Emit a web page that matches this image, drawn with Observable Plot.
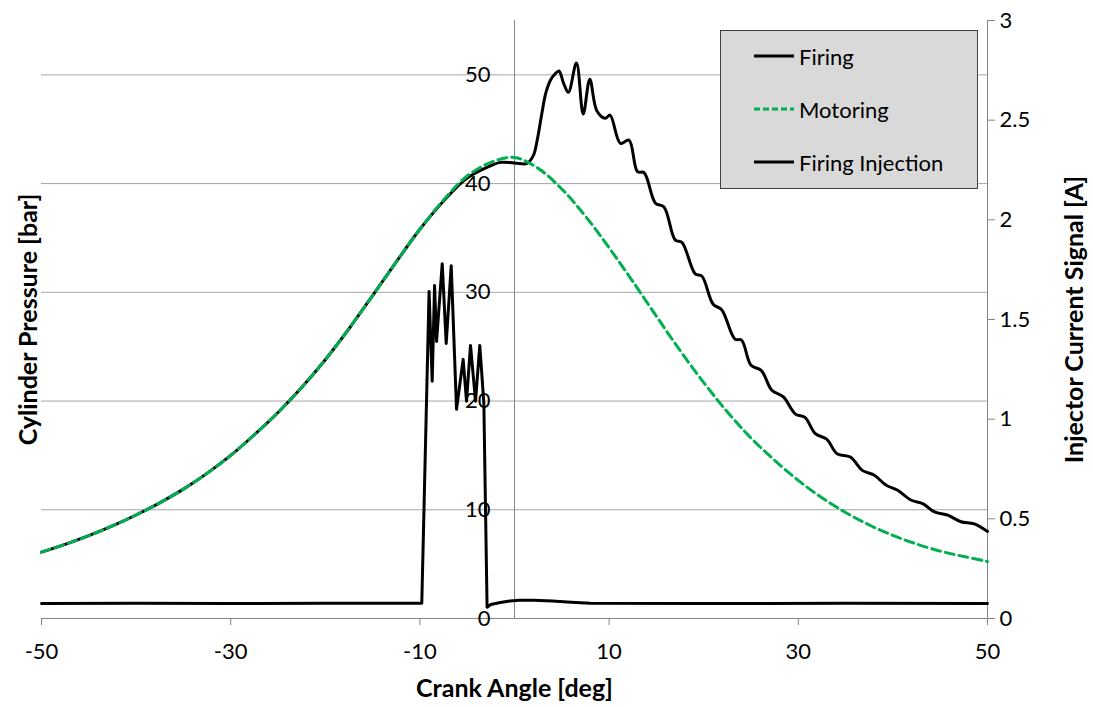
<!DOCTYPE html>
<html>
<head>
<meta charset="utf-8">
<script src="https://cdn.jsdelivr.net/npm/d3@7"></script>
<script src="https://cdn.jsdelivr.net/npm/@observablehq/plot@0.6"></script>
<style>
  body { margin: 0; background: #fff; }
  #wrap { position: relative; width: 1093px; height: 707px; }
  #wrap svg.chart { position: absolute; left: 0; top: 0; }
  #legend { position: absolute; left: 720px; top: 30px; width: 256px; height: 157px;
            background: #d9d9d9; border: 1px solid #404040; font-family: Lato, "Open Sans", sans-serif;
            font-size: 22px; color: #000; }
  #legend .item { position: absolute; left: 33px; height: 30px; display: flex; align-items: center; }
  #legend .item span { margin-left: 5px; white-space: nowrap; }
</style>
</head>
<body>
<div id="wrap"></div>
<script>
// ---- data ----
const angleMotoring = [-50,-47.5,-45,-42.5,-40,-37.5,-35,-32.5,-30,-27.5,-25,-22.5,-20,-17.5,-15,-12.5,-10,-7.5,-5,-2.5,0,2.5,5,7.5,10,12.5,15,17.5,20,22.5,25,27.5,30,32.5,35,37.5,40,42.5,45,47.5,50];
const pressureMotoring = [6.1,6.82,7.62,8.52,9.52,10.64,11.9,13.35,15.0,16.9,18.95,21.25,23.8,26.65,29.7,32.8,35.8,38.5,40.7,41.95,42.4,41.4,39.5,37.0,34.1,31.0,27.8,24.65,21.7,19.0,16.6,14.55,12.7,11.1,9.75,8.6,7.65,6.85,6.2,5.7,5.24];

const angleFiring = [-50,-47.5,-45,-42.5,-40,-37.5,-35,-32.5,-30,-27.5,-25,-22.5,-20,-17.5,-15,-12.5,-10,-7.5,-5,-2.5,-1.5,0,1.3,2.0,2.4,2.9,3.3,3.8,4.3,4.7,5.2,5.7,6.55,7.26,7.96,8.7,9.6,10.1,11.2,12.1,13.0,13.7,14.9,15.8,17.0,17.7,19.1,19.8,21.0,21.9,23.3,24.0,25.0,26.1,27.2,28.4,29.7,30.7,31.8,33.0,34.1,35.5,36.8,38.0,39.3,40.5,41.9,43.2,44.4,45.8,47.2,48.6,50];
const pressureFiring = [6.1,6.82,7.62,8.52,9.52,10.64,11.9,13.35,15.0,16.9,18.95,21.25,23.8,26.65,29.7,32.8,35.8,38.4,40.5,41.65,41.95,41.9,41.85,42.6,44.0,46.5,48.3,49.5,50.1,50.35,49.2,48.4,51.1,46.4,49.6,46.7,46.0,46.3,43.7,44.0,41.1,41.0,38.2,37.85,34.8,34.6,31.7,31.5,28.9,28.4,25.7,25.6,23.3,22.8,21.0,20.4,18.8,18.5,17.0,16.5,15.15,14.85,13.6,13.2,12.25,11.8,10.9,10.55,9.8,9.5,8.9,8.7,8.0];

const angleInjection = [-50,-40,-30,-20,-10.2,-9.8,-9.03,-8.7,-8.45,-8.24,-7.64,-7.22,-6.69,-6.13,-5.43,-5.07,-4.65,-4.12,-3.67,-3.24,-2.9,-2.5,-1.5,-0.5,0.5,2,4,6,8,20,35,50];
const currentInjection = [0.075,0.077,0.075,0.077,0.077,0.077,1.64,1.19,1.67,1.39,1.78,1.38,1.77,1.05,1.30,1.09,1.37,1.09,1.37,1.08,0.057,0.07,0.08,0.088,0.092,0.092,0.088,0.082,0.077,0.075,0.076,0.075];

const angleTicks = [-50,-30,-10,10,30,50];
const pressureTicks = [0,10,20,30,40,50];
const currentTicks = [0,0.5,1,1.5,2,2.5,3];

const seriesNames = ["Firing","Motoring","Firing Injection"];
const seriesColors = ["#000000","#00b050","#000000"];

// ---- scales ----
const pressureMax = 55, currentMax = 3;
const k = pressureMax / currentMax; // current -> pressure units for the secondary axis
const gridColor = "#a6a6a6", axisColor = "#868686";
const tickFont = "Lato, 'Open Sans', sans-serif";

const chart = Plot.plot({
  width: 1093, height: 707,
  marginLeft: 41, marginRight: 106, marginTop: 20, marginBottom: 89,
  style: { fontFamily: tickFont, fontSize: "22px", color: "#000", background: "#fff", overflow: "visible" },
  x: { domain: [-50, 50] },
  y: { domain: [0, pressureMax] },
  marks: [
    Plot.ruleY(pressureTicks.filter(d => d > 0), { stroke: gridColor, strokeWidth: 1 }),
    Plot.ruleX([0], { stroke: axisColor, strokeWidth: 1 }),
    Plot.ruleX([50], { stroke: axisColor, strokeWidth: 1 }),
    Plot.ruleY([0], { stroke: axisColor, strokeWidth: 1 }),
    Plot.line(pressureFiring, { x: angleFiring, y: pressureFiring, stroke: seriesColors[0], strokeWidth: 3, curve: "catmull-rom" }),
    Plot.line(pressureMotoring, { x: angleMotoring, y: pressureMotoring, stroke: seriesColors[1], strokeWidth: 3, strokeDasharray: "9,5", curve: "catmull-rom" }),
    Plot.line(currentInjection, { x: angleInjection, y: currentInjection.map(c => c * k), stroke: seriesColors[2], strokeWidth: 3, curve: "linear" }),
    Plot.axisX(angleTicks, { tickSize: 7, tickPadding: 18, stroke: axisColor, fill: "#000", fontSize: 22, label: null, tickFormat: d => String(d) }),
    Plot.text(pressureTicks, { x: 0, y: d => d, text: d => String(d), textAnchor: "end", dx: -24, fontSize: 22, fill: "#000" }),
    Plot.axisY(currentTicks.map(c => c * k), { anchor: "right", tickSize: 7, tickPadding: 5, stroke: axisColor, fill: "#000", fontSize: 22, label: null,
      tickFormat: d => String(Math.round(d / k * 2) / 2) }),
    Plot.text(["Crank Angle [deg]"], { frameAnchor: "bottom", textAnchor: "middle", dy: 78, fontWeight: "bold", fontSize: 25, fill: "#000" }),
    Plot.text(["Cylinder Pressure [bar]"], { frameAnchor: "left", textAnchor: "middle", dx: -13, rotate: -90, fontWeight: "bold", fontSize: 25, fill: "#000" }),
    Plot.text(["Injector Current Signal [A]"], { frameAnchor: "right", textAnchor: "middle", dx: 87, rotate: -90, fontWeight: "bold", fontSize: 25, fill: "#000" })
  ]
});
chart.classList.add("chart");
const wrap = document.getElementById("wrap");
wrap.appendChild(chart);

// ---- legend (overlaid box, as in the reference) ----
const legend = document.createElement("div");
legend.id = "legend";
const itemTops = [10, 63, 116];
seriesNames.forEach((name, i) => {
  const item = document.createElement("div");
  item.className = "item";
  item.style.top = itemTops[i] + "px";
  const dash = i === 1 ? ' stroke-dasharray="6,3"' : "";
  item.innerHTML = `<svg width="40" height="30"><line x1="0" x2="40" y1="15" y2="15" stroke="${seriesColors[i]}" stroke-width="3"${dash}/></svg><span>${name}</span>`;
  legend.appendChild(item);
});
wrap.appendChild(legend);
</script>
</body>
</html>
